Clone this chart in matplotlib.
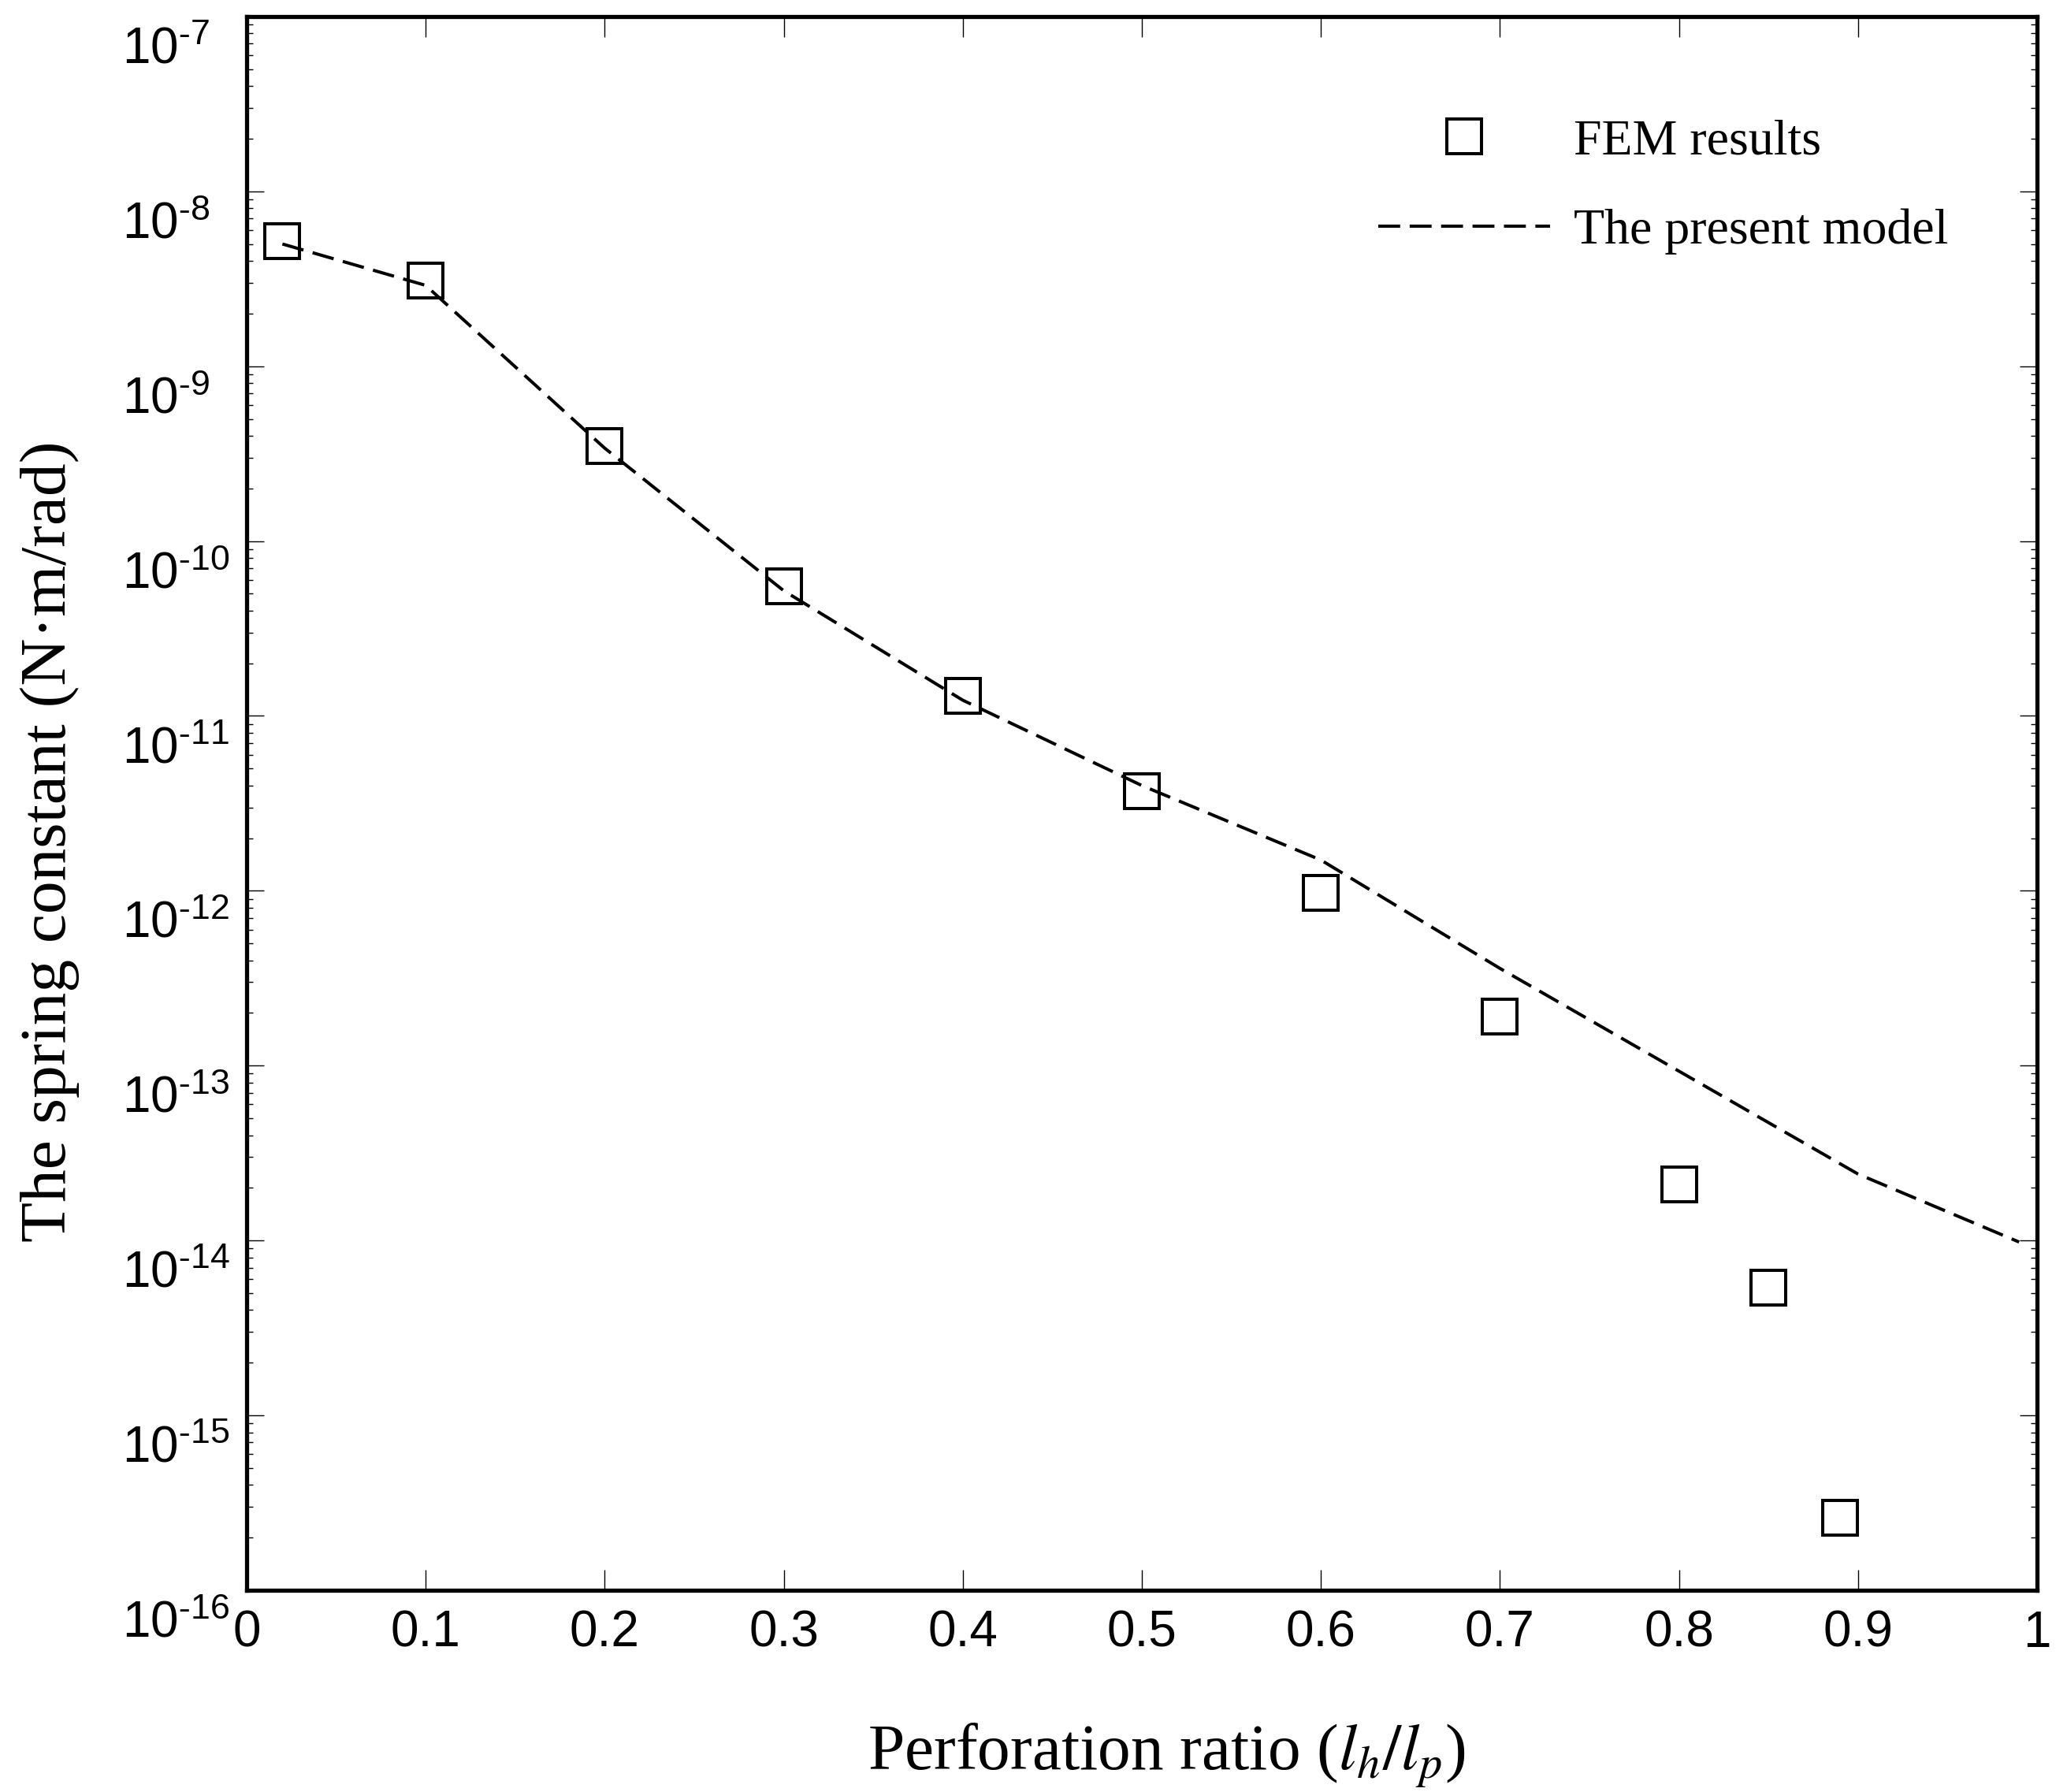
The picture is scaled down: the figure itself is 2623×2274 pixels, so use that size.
import matplotlib
matplotlib.use('Agg')
import matplotlib.pyplot as plt
import matplotlib.ticker as mticker
from matplotlib.transforms import ScaledTranslation
import numpy as np

# FEM results (squares)
fem_ratio = [0.02, 0.1, 0.2, 0.3, 0.4, 0.5, 0.6, 0.7, 0.8, 0.85, 0.89]
fem_k = [5.2e-9, 3.1e-9, 3.5e-10, 5.5e-11, 1.3e-11, 3.7e-12, 9.7e-13, 1.9e-13, 2.1e-14, 5.4e-15, 2.6e-16]

# the present model (dashed)
model_ratio = [0.02, 0.1, 0.2, 0.3, 0.4, 0.5, 0.6, 0.7, 0.8, 0.9, 0.99]
model_k = [5.0e-9, 2.9e-9, 3.4e-10, 5.2e-11, 1.23e-11, 4.0e-12, 1.5e-12, 3.6e-13, 9.3e-14, 2.4e-14, 9.8e-15]

xticks = [0, 0.1, 0.2, 0.3, 0.4, 0.5, 0.6, 0.7, 0.8, 0.9, 1]
xticklabels = ['0', '0.1', '0.2', '0.3', '0.4', '0.5', '0.6', '0.7', '0.8', '0.9', '1']

plt.rcParams['mathtext.fontset'] = 'stix'
plt.rcParams['axes.unicode_minus'] = False
sans = ['Liberation Sans', 'DejaVu Sans']
serif = ['Liberation Serif', 'DejaVu Serif']

fig = plt.figure(figsize=(26.23, 22.74), dpi=100)
ax = fig.add_axes([0.1193, 0.1126, 0.8662, 0.8782])

ax.plot(model_ratio, model_k, color='black', linestyle=(0, (6.9, 3.0)), linewidth=2.9,
        label='The present model')
ax.plot(fem_ratio, fem_k, linestyle='none', marker='s', markersize=31, markerfacecolor='none',
        markeredgecolor='black', markeredgewidth=2.9, label='FEM results')

ax.set_yscale('log')
ax.set_xlim(0, 1)
ax.set_ylim(1e-16, 1e-7)

ax.set_xticks(xticks)
ax.set_xticklabels(xticklabels, family=sans, fontsize=46)
ax.xaxis.set_minor_locator(mticker.NullLocator())
ax.yaxis.set_major_locator(mticker.LogLocator(base=10, numticks=20))
ax.yaxis.set_minor_locator(mticker.LogLocator(base=10, subs=np.arange(2, 10), numticks=20))
ax.yaxis.set_major_formatter(mticker.FuncFormatter(
    lambda v, p: r'$\mathregular{10^{\text{-}%d}}$' % abs(int(round(np.log10(v))))))
ax.yaxis.set_minor_formatter(mticker.NullFormatter())

ax.tick_params(axis='both', which='both', direction='in', top=True, right=True)
ax.tick_params(axis='y', which='major', length=16, width=1.0, pad=114, labelsize=46)
ax.tick_params(axis='y', which='minor', length=6, width=1.0)
ax.tick_params(axis='x', which='major', length=19, width=1.0, pad=18)

for lab in ax.get_yticklabels():
    lab.set_family(sans)
    lab.set_horizontalalignment('left')
    lab.set_transform(lab.get_transform() + ScaledTranslation(0, -26 / 72, fig.dpi_scale_trans))

for sp in ax.spines.values():
    sp.set_linewidth(3.8)

ax.set_ylabel('The spring constant (N·m/rad)', family=serif, fontsize=60, va='center')
ax.yaxis.set_label_coords(-0.11, 0.476)
ax.set_xlabel(r'Perforation ratio ($l_h/l_p$)', family=serif, fontsize=60, va='center')
ax.xaxis.set_label_coords(0.514, -0.105)

h, l = ax.get_legend_handles_labels()
leg = ax.legend(h[::-1], l[::-1], loc='upper left', bbox_to_anchor=(0.632, 0.935), frameon=False,
                prop={'family': serif, 'size': 46}, handlelength=3.41, handletextpad=0.48,
                labelspacing=0.86, borderpad=0, borderaxespad=0)

fig.savefig('out.png', dpi=100)
